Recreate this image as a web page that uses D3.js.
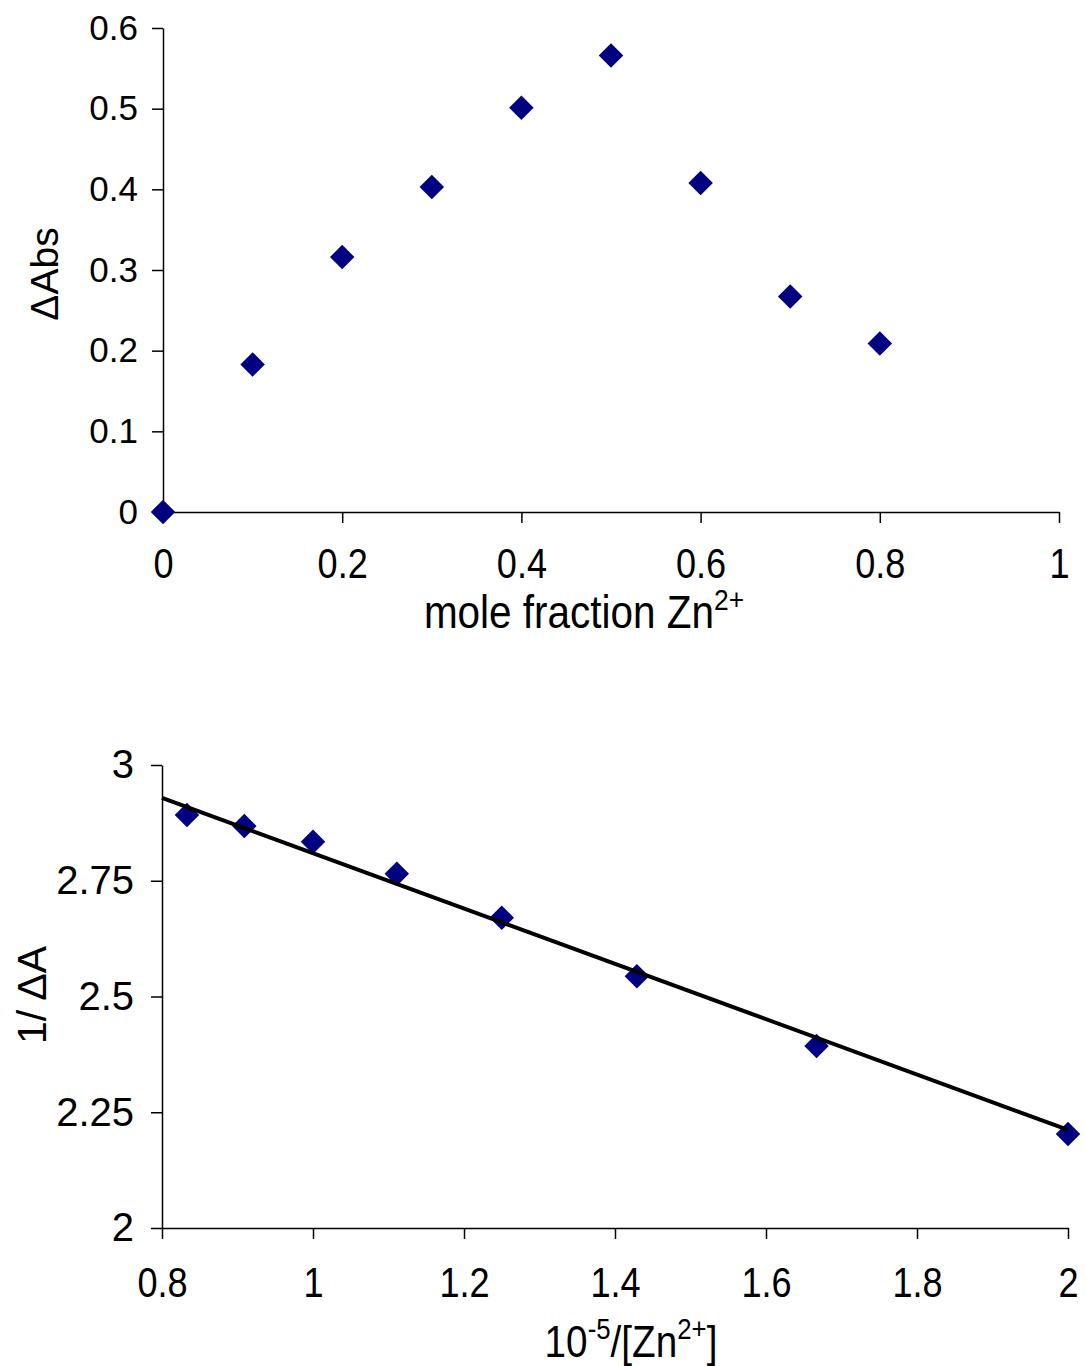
<!DOCTYPE html>
<html>
<head>
<meta charset="utf-8">
<script src="https://cdn.jsdelivr.net/npm/d3@7"></script>
<style>
  body { margin: 0; background: #fff; }
  svg { display: block; font-family: "Liberation Sans", Arial, sans-serif; }
  .domain, .tick line { stroke: #000; stroke-width: 1.5px; }
</style>
</head>
<body>
<svg id="chart" width="1086" height="1366"></svg>
<script>
// top chart: Job's plot
const jobX = [0, 0.1, 0.2, 0.3, 0.4, 0.5, 0.6, 0.7, 0.8];
const jobY = [0, 0.183, 0.316, 0.403, 0.501, 0.566, 0.408, 0.267, 0.209];
const jobXTicks = [0, 0.2, 0.4, 0.6, 0.8, 1];
const jobYTicks = [0, 0.1, 0.2, 0.3, 0.4, 0.5, 0.6];

// bottom chart: double reciprocal
const recX = [0.833, 0.909, 1.0, 1.111, 1.25, 1.429, 1.667, 2.0];
const recY = [2.892, 2.868, 2.834, 2.765, 2.670, 2.544, 2.393, 2.203];
const fitX = [0.8, 2.0];
const fitY = [2.929, 2.212];
const recXTicks = [0.8, 1, 1.2, 1.4, 1.6, 1.8, 2];
const recYTicks = [2, 2.25, 2.5, 2.75, 3];

const svg = d3.select("#chart");
const navy = "#000080";
const diamond = d3.symbol().type(d3.symbolSquare).size(300);

function drawPanel(opt) {
    const x = d3.scaleLinear().domain(opt.xDomain).range([opt.left, opt.right]);
    const y = d3.scaleLinear().domain(opt.yDomain).range([opt.bottom, opt.top]);
    const g = svg.append("g");

    // y axis
    const ya = g.append("g")
        .attr("transform", `translate(${opt.left},0)`)
        .call(d3.axisLeft(y).tickValues(opt.yTicks).tickSize(11).tickSizeOuter(0)
            .tickPadding(opt.yPad).tickFormat(d => String(d)));
    ya.selectAll("text")
        .attr("font-size", opt.yFont)
        .attr("font-family", "Liberation Sans, Arial, sans-serif")
        .attr("fill", "#000");

    // x axis
    const xa = g.append("g")
        .attr("transform", `translate(0,${opt.bottom})`)
        .call(d3.axisBottom(x).tickValues(opt.xTicks).tickSize(11).tickSizeOuter(0)
            .tickFormat(d => String(d)));
    xa.selectAll("text")
        .attr("font-size", 42)
        .attr("font-family", "Liberation Sans, Arial, sans-serif")
        .attr("fill", "#000")
        .attr("dy", 0)
        .attr("y", 0)
        .attr("transform", `translate(0,${opt.xBase}) scale(0.86,1)`);

    // markers
    g.selectAll(".pt")
        .data(opt.xs.map((v, i) => [v, opt.ys[i]]))
        .enter()
        .append("path")
        .attr("class", "pt")
        .attr("d", diamond)
        .attr("transform", d => `translate(${x(d[0])},${y(d[1])}) rotate(45)`)
        .attr("fill", navy);

    // fit line, on top of the markers
    if (opt.fitX) {
        const line = d3.line().x(d => x(d[0])).y(d => y(d[1]));
        g.append("path")
            .datum(opt.fitX.map((v, i) => [v, opt.fitY[i]]))
            .attr("d", line)
            .attr("fill", "none")
            .attr("stroke", "#000")
            .attr("stroke-width", 4);
    }
}

drawPanel({
    xDomain: [0, 1], yDomain: [0, 0.6],
    left: 163, right: 1059, top: 28, bottom: 512,
    xTicks: jobXTicks, yTicks: jobYTicks,
    yFont: 35, yPad: 14, xBase: 66,
    xs: jobX, ys: jobY
});

drawPanel({
    xDomain: [0.8, 2], yDomain: [2, 3],
    left: 162, right: 1068, top: 765, bottom: 1228,
    xTicks: recXTicks, yTicks: recYTicks,
    yFont: 40, yPad: 17, xBase: 69,
    xs: recX, ys: recY, fitX: fitX, fitY: fitY
});

// axis titles
svg.append("text")
    .attr("transform", "translate(58,274) rotate(-90)")
    .attr("text-anchor", "middle")
    .attr("font-size", 39)
    .text("ΔAbs");

const t1 = svg.append("text")
    .attr("transform", "translate(584,628) scale(0.88,1)")
    .attr("text-anchor", "middle")
    .attr("font-size", 46);
t1.append("tspan").text("mole fraction Zn");
t1.append("tspan").attr("font-size", 30).attr("dy", -18).text("2+");

svg.append("text")
    .attr("transform", "translate(46,995) rotate(-90)")
    .attr("text-anchor", "middle")
    .attr("font-size", 41)
    .attr("xml:space", "preserve")
    .text("1/ ΔA");

const t2 = svg.append("text")
    .attr("transform", "translate(631,1357) scale(0.86,1)")
    .attr("text-anchor", "middle")
    .attr("font-size", 45);
t2.append("tspan").text("10");
t2.append("tspan").attr("font-size", 30).attr("dy", -18).text("-5");
t2.append("tspan").attr("dy", 18).text("/[Zn");
t2.append("tspan").attr("font-size", 30).attr("dy", -18).text("2+");
t2.append("tspan").attr("dy", 18).text("]");
</script>
</body>
</html>
